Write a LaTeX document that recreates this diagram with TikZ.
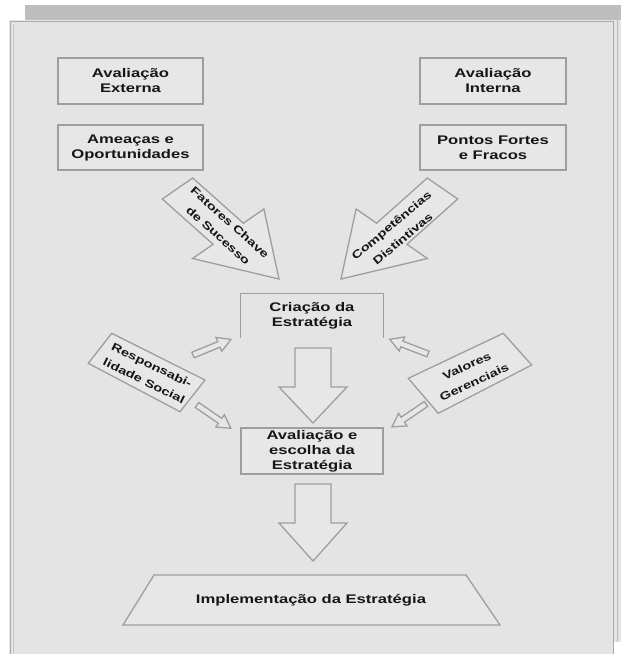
\documentclass[tikz,border=0pt]{standalone}
\usepackage{fontspec}
\newfontfamily\lblfam{Liberation Sans}[FakeStretch=1.33]
\definecolor{panel}{HTML}{E4E4E4}
\definecolor{bar}{HTML}{BEBEBE}
\definecolor{edgegray}{HTML}{9E9E9E}
\definecolor{frame}{HTML}{ABABAB}
\definecolor{boxfill}{HTML}{E7E7E7}
\definecolor{ink}{HTML}{161616}
\begin{document}
\begin{tikzpicture}[x=1pt,y=-1pt,
  lbl/.style={font=\lblfam\bfseries\fontsize{12.5}{15}\selectfont, text=ink, align=center, inner sep=0pt},
  tilted/.style={lbl, font=\lblfam\bfseries\fontsize{11}{17.5}\selectfont},
  box/.style={lbl, draw=edgegray, line width=1.3pt, fill=boxfill},
  outl/.style={draw=edgegray, line width=1.3pt, fill=boxfill, line join=miter},
  smallarr/.pic={\draw[outl] (0,-3) -- (28,-3) -- (28,-7.5) -- (41,0) -- (28,7.5) -- (28,3) -- (0,3) -- cycle;}
]
\useasboundingbox (0,0) rectangle (621,654);
\fill[white] (0,0) rectangle (621,654);

% page frame
\fill[bar] (25,5) rectangle (621,20);
\fill[panel] (9,20) rectangle (621,642);
\fill[panel] (9,20) rectangle (614,654);
\draw[frame, line width=1pt] (10,654) -- (10,21) -- (613,21) -- (613,654);
\draw[frame!70, line width=1pt] (13.5,654) -- (13.5,24);
\draw[frame!80, line width=1pt] (617,20) -- (617,642);

% assessment boxes
\node[box, minimum width=145pt, minimum height=46pt] (ext) at (130.5,81) {Avaliação\\Externa};
\node[box, minimum width=146pt, minimum height=46pt] (int) at (493,81) {Avaliação\\Interna};
\node[box, minimum width=145pt, minimum height=45pt] (ame) at (130.5,147.5) {Ameaças e\\Oportunidades};
\node[box, minimum width=146pt, minimum height=45pt] (pon) at (493,147.5) {Pontos Fortes\\e Fracos};

% large inward arrows
\draw[outl] (192.7,178) -- (243.4,223.2) -- (263.9,209) -- (279,279) -- (192.6,258.5) -- (213.1,244.3) -- (162.3,199) -- cycle;
\node[tilted, rotate=-42] (fcs) at (224,229) {Fatores Chave\\de Sucesso};
\draw[outl] (427.3,178) -- (376.6,223.2) -- (356.1,209) -- (341,279) -- (427.4,258.5) -- (406.9,244.3) -- (457.7,199) -- cycle;
\node[tilted, rotate=40] (cd) at (397,232) {Competências\\Distintivas};

% strategy creation (open at the bottom)
\node[lbl, minimum width=142pt, minimum height=44pt] (cri) at (312,316) {Criação da\\Estratégia};
\draw[edgegray, line width=1.3pt] (cri.south west) -- (cri.north west) -- (cri.north east) -- (cri.south east);

% side influences
\draw[outl] (111.7,333.3) -- (205,380) -- (180,411.7) -- (88.3,363.3) -- cycle;
\node[tilted, rotate=-26] (rs) at (148,373) {Responsabi-\\lidade Social};
\draw[outl] (408.3,378.3) -- (503.3,333.3) -- (531.7,365) -- (438.3,413.3) -- cycle;
\node[tilted, rotate=25] (vg) at (470.5,374) {Valores\\Gerenciais};

\pic[rotate=22.3] at (193,355) {smallarr};
\pic[rotate=-34.5] at (197,405) {smallarr};
\pic[rotate=159] at (428,354) {smallarr};
\pic[rotate=214] at (426,404) {smallarr};

% evaluation and choice
\draw[outl] (295,348) -- (331,348) -- (331,387) -- (347,387) -- (313,423) -- (279,387) -- (295,387) -- cycle;
\node[box, minimum width=142pt, minimum height=46pt] (esc) at (312,451) {Avaliação e\\escolha da\\Estratégia};

% implementation
\draw[outl] (295,484) -- (331,484) -- (331,523) -- (347,523) -- (313,561) -- (279,523) -- (295,523) -- cycle;
\draw[outl] (154,575) -- (466,575) -- (500,625) -- (123,625) -- cycle;
\node[lbl] (imp) at (311,600) {Implementação da Estratégia};
\end{tikzpicture}
\end{document}
